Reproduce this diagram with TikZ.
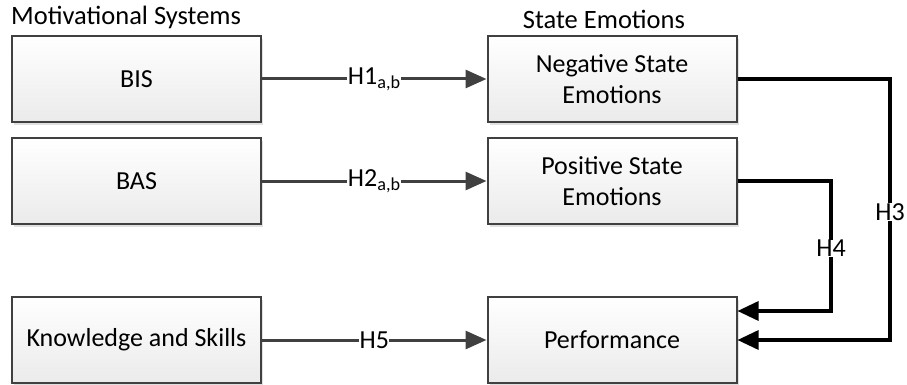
\documentclass[tikz,border=0pt]{standalone}
\usepackage{fontspec}
\setmainfont{Carlito}
\usetikzlibrary{shadows,arrows.meta}
\begin{document}
\begin{tikzpicture}[x=1pt,y=-1pt,
  box/.style={draw=black!75,line width=2pt,top color=white,bottom color=black!8,
    minimum width=249pt,minimum height=86pt,align=center,font=\fontsize{26}{31}\selectfont,
    drop shadow={shadow xshift=2pt,shadow yshift=-3pt,fill=black!20,opacity=0.6}},
  lbl/.style={fill=white,inner sep=0.5pt,font=\fontsize{26}{31}\selectfont},
  gconn/.style={draw=black!75,line width=3pt,-{Triangle[length=21pt,width=18pt]}},
  kconn/.style={draw=black,line width=3.2pt,-{Triangle[length=21pt,width=19pt]}},
  title/.style={font=\fontsize{26.5}{31}\selectfont,inner sep=0pt}]
\useasboundingbox (0,0) rectangle (907,385);
\node[box] (bis) at (136.5,79) {BIS};
\node[box] (bas) at (136.5,181) {BAS};
\node[box] (ks) at (136.5,340) {Knowledge and Skills};
\node[box] (neg) at (612,79) {Negative State\\Emotions};
\node[box] (pos) at (612,181) {Positive State\\Emotions};
\node[box] (perf) at (612,340) {Performance};
\node[title,anchor=west] (t1) at (11,17) {Motivational Systems};
\node[title] (t2) at (604,19) {State Emotions};
\draw[gconn] (bis) -- node[lbl] (h1) {H1\textsubscript{a,b}} (neg);
\draw[gconn] (bas) -- node[lbl] (h2) {H2\textsubscript{a,b}} (pos);
\draw[gconn] (ks) -- node[lbl] (h5) {H5} (perf);
\coordinate (c3a) at (890,79);
\coordinate (c3b) at (890,340);
\coordinate (c4a) at (831,181);
\coordinate (c4b) at (831,311);
\draw[kconn] (neg.east) -- (c3a) -- node[lbl,pos=0.51] (h3) {H3} (c3b) -- (perf.east);
\draw[kconn] (pos.east) -- (c4a) -- node[lbl,pos=0.52] (h4) {H4} (c4b) -- (perf.east |- c4b);
\end{tikzpicture}
\end{document}
